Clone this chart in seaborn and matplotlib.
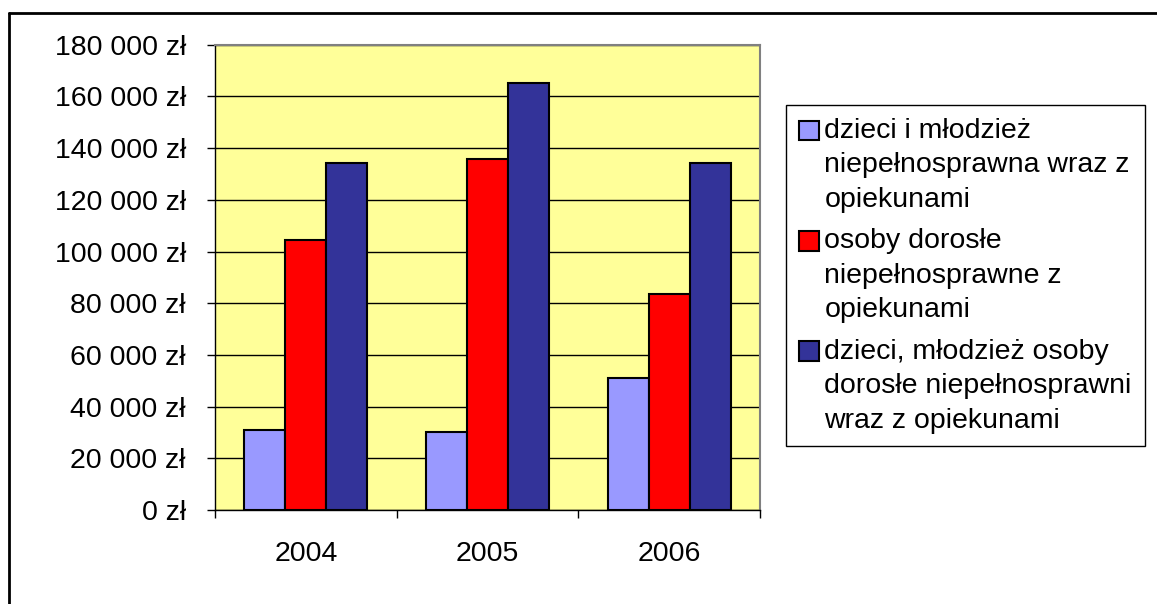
import numpy as np
import pandas as pd
import seaborn as sns
import matplotlib.pyplot as plt
from matplotlib.lines import Line2D
from matplotlib.patches import Rectangle
from matplotlib.legend_handler import HandlerPatch
from matplotlib.ticker import FuncFormatter, FixedLocator

# data
years = ['2004', '2005', '2006']
groups = [
    'dzieci i młodzież\nniepełnosprawna wraz z\nopiekunami',
    'osoby dorosłe\nniepełnosprawne z\nopiekunami',
    'dzieci, młodzież osoby\ndorosłe niepełnosprawni\nwraz z opiekunami',
]
kids = [30800, 30100, 51000]
adults = [104300, 135900, 83600]
all_people = [134200, 165200, 134200]
colors = ['#9999FF', '#FF0000', '#333399']

FS = 20.5
LS = 1.42

sns.set_style('white')
plt.rcParams['font.family'] = ['Liberation Sans', 'DejaVu Sans']
plt.rcParams['font.size'] = FS
for k in ['text.color', 'xtick.color', 'ytick.color', 'axes.labelcolor']:
    plt.rcParams[k] = 'black'

df = pd.DataFrame({
    'rok': years * 3,
    'grupa': [groups[0]] * 3 + [groups[1]] * 3 + [groups[2]] * 3,
    'kwota': kids + adults + all_people,
})

fig = plt.figure(figsize=(11.57, 6.04), dpi=100)
ax = fig.add_axes([0.1858, 0.1556, 0.6569 - 0.1858, 0.926 - 0.1556])
ax.set_facecolor('#FFFF99')

sns.barplot(data=df, x='rok', y='kwota', hue='grupa', order=years, hue_order=groups,
            palette=colors, width=0.675, gap=0, saturation=1,
            edgecolor='black', linewidth=1.5, ax=ax)

ax.set_xlim(-0.5, 2.5)
ax.set_ylim(0, 180000)
ax.set_yticks(np.arange(0, 180001, 20000))
ax.yaxis.set_major_formatter(FuncFormatter(lambda v, p: f'{int(v):,} zł'.replace(',', ' ')))
ax.set_xlabel('')
ax.set_ylabel('')

# horizontal grid only
ax.set_axisbelow(True)
ax.yaxis.grid(True, color='black', linewidth=1)
ax.xaxis.grid(False)

# ticks: year labels without ticks, boundary ticks as minor
ax.xaxis.set_minor_locator(FixedLocator([-0.5, 0.5, 1.5, 2.5]))
ax.tick_params(axis='x', which='major', length=0, pad=22)
ax.tick_params(axis='x', which='minor', length=6, width=1, color='black', direction='out', bottom=True)
ax.tick_params(axis='y', which='major', length=6, width=1, color='black', direction='out', pad=15, left=True)

for s in ['top', 'right']:
    ax.spines[s].set_color('#808080')
    ax.spines[s].set_linewidth(1.5)
for s in ['left', 'bottom']:
    ax.spines[s].set_color('black')
    ax.spines[s].set_linewidth(1)


# legend marker sits next to the first line of each label
def top_square(legend, orig_handle, xdescent, ydescent, width, height, fontsize):
    return Rectangle((-xdescent, -ydescent + fontsize * LS * 0.86), width, height)


handles, labels = ax.get_legend_handles_labels()
leg = ax.legend(handles, labels, loc='upper left', bbox_to_anchor=(786 / 1157, 1 - 105 / 604),
                bbox_transform=fig.transFigure, borderaxespad=0, fancybox=False,
                edgecolor='black', framealpha=1, handlelength=0.7, handleheight=0.7,
                handletextpad=0.2, labelspacing=0.55, borderpad=0.45, fontsize=FS,
                handler_map={h: HandlerPatch(patch_func=top_square) for h in handles})
leg.get_frame().set_linewidth(1)
for t in leg.get_texts():
    t.set_linespacing(LS)

# outer chart border (top and left edges visible)
fig.add_artist(Line2D([9 / 1157, 9 / 1157], [0, 1 - 13 / 604], transform=fig.transFigure,
                      color='black', linewidth=2))
fig.add_artist(Line2D([9 / 1157, 1], [1 - 13 / 604, 1 - 13 / 604], transform=fig.transFigure,
                      color='black', linewidth=2))

fig.savefig('out.png', dpi=100)
